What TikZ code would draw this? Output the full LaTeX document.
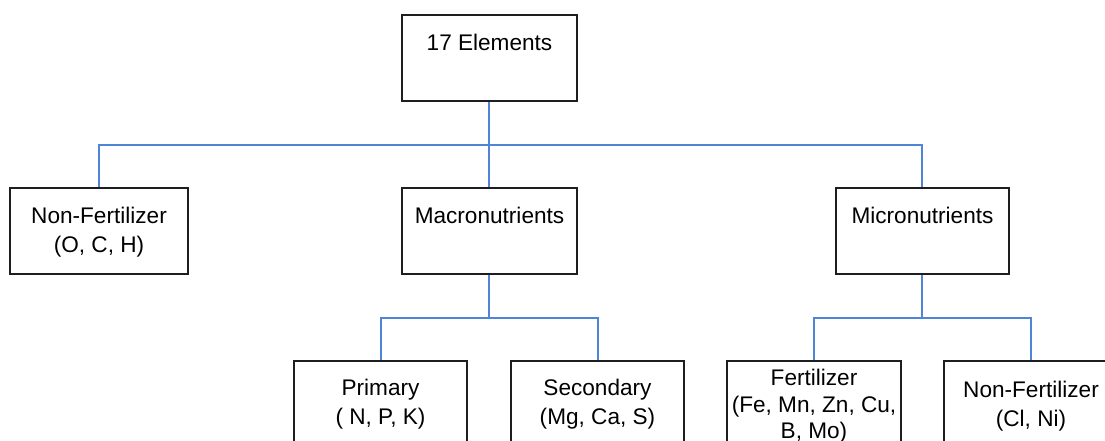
\documentclass[tikz,border=0pt]{standalone}
\usepackage{fontspec}
\setmainfont{Liberation Sans}
\definecolor{linkblue}{RGB}{80,132,214}
\definecolor{boxline}{RGB}{30,30,30}
\begin{document}
\begin{tikzpicture}[x=1pt,y=-1pt,
  box/.style={draw=boxline,line width=1.7pt,minimum width=175pt,minimum height=86pt,inner sep=0pt,fill=white},
  lbl/.style={anchor=north,inner sep=0pt,align=center,font=\fontsize{22.6}{29}\selectfont},
  conn/.style={draw=linkblue,line width=2pt}]
\useasboundingbox (0,0) rectangle (1105,441);
\clip (0,0) rectangle (1105,441);
% boxes
\node[box] (top)  at (489.5,58) {};
\node[box,minimum width=178pt] (nf) at (99,231) {};
\node[box] (macro) at (489.5,231) {};
\node[box,minimum width=173pt] (micro) at (922.5,231) {};
\node[box,minimum width=173pt] (prim) at (380.5,404) {};
\node[box,minimum width=173pt] (sec) at (597.5,404) {};
\node[box,minimum width=174pt] (fert) at (814,404) {};
\node[box,minimum width=174pt] (nf2) at (1031,404) {};
% labels
\node[lbl] (ttop) at ([yshift=-20pt]top.north) {17 Elements};
\node[lbl] (tnf) at ([yshift=-20pt]nf.north) {Non-Fertilizer\\(O, C, H)};
\node[lbl] (tmacro) at ([yshift=-20pt]macro.north) {Macronutrients};
\node[lbl] (tmicro) at ([yshift=-20pt]micro.north) {Micronutrients};
\node[lbl] (tprim) at ([yshift=-19pt]prim.north) {Primary\\( N, P, K)};
\node[lbl] (tsec) at ([yshift=-19pt]sec.north) {Secondary\\(Mg, Ca, S)};
\node[lbl,font=\fontsize{22.6}{26.5}\selectfont] (tfert) at ([yshift=-9pt]fert.north) {Fertilizer\\(Fe, Mn, Zn, Cu,\\B, Mo)};
\node[lbl] (tnf2) at ([yshift=-21pt]nf2.north) {Non-Fertilizer\\(Cl, Ni)};
% junctions
\coordinate (j1) at (489,145);
\coordinate (j2) at (489,318);
\coordinate (j3) at (922,318);
% connectors
\draw[conn] (top.south -| j1) -- (j1);
\draw[conn] (j1) -| (nf.north);
\draw[conn] (j1) -- (macro.north -| j1);
\draw[conn] (j1) -| (micro.north -| j3);
\draw[conn] (macro.south -| j2) -- (j2);
\draw[conn] (j2) -| (prim.north);
\draw[conn] (j2) -| (sec.north);
\draw[conn] (micro.south -| j3) -- (j3);
\draw[conn] (j3) -| (fert.north);
\draw[conn] (j3) -| (nf2.north);
\end{tikzpicture}
\end{document}
